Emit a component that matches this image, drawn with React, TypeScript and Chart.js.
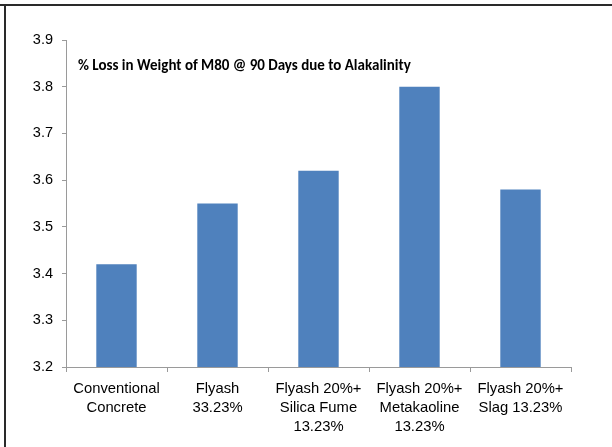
import React, { useEffect, useRef } from "react";
import { Chart, registerables } from "chart.js";

Chart.register(...registerables);

const chartTitle = "% Loss in Weight of M80 @ 90 Days due to Alakalinity";
const categories: string[][] = [
  ["Conventional", "Concrete"],
  ["Flyash", "33.23%"],
  ["Flyash 20%+", "Silica Fume", "13.23%"],
  ["Flyash 20%+", "Metakaoline", "13.23%"],
  ["Flyash 20%+", "Slag 13.23%"],
];
const lossValues = [3.42, 3.55, 3.62, 3.8, 3.58];
const yMin = 3.2;
const yMax = 3.9;
const yStep = 0.1;

export default function App() {
  const canvasRef = useRef<HTMLCanvasElement | null>(null);

  useEffect(() => {
    if (!canvasRef.current) return;
    const chart = new Chart(canvasRef.current, {
      type: "bar",
      data: {
        labels: categories,
        datasets: [
          {
            data: lossValues,
            backgroundColor: "#4F81BD",
            borderWidth: 0,
            barPercentage: 0.4,
            categoryPercentage: 1,
          },
        ],
      },
      options: {
        animation: false,
        responsive: false,
        maintainAspectRatio: false,
        layout: { padding: { left: 0, right: 41, top: 40, bottom: 0 } },
        plugins: { legend: { display: false }, tooltip: { enabled: false }, title: { display: false } },
        scales: {
          x: {
            grid: {
              display: true,
              drawOnChartArea: false,
              drawTicks: true,
              tickLength: 5,
              color: "#9a9a9a",
              offset: true,
            },
            border: { display: true, color: "#9a9a9a", width: 1 },
            ticks: {
              color: "#000",
              font: { family: "'Liberation Sans', Arial, sans-serif", size: 14.8, lineHeight: 1.3 },
              padding: 7,
              maxRotation: 0,
              autoSkip: false,
            },
            afterFit: (scale: any) => {
              scale.height = 80;
            },
          },
          y: {
            min: yMin,
            max: yMax,
            grid: {
              display: true,
              drawOnChartArea: false,
              drawTicks: true,
              tickLength: 4,
              color: "#9a9a9a",
            },
            border: { display: true, color: "#9a9a9a", width: 1 },
            ticks: {
              stepSize: yStep,
              color: "#000",
              font: { family: "'Liberation Sans', Arial, sans-serif", size: 14.5 },
              padding: 9,
              callback: (v: any) => Number(v).toFixed(1),
            },
            afterFit: (scale: any) => {
              scale.width = 66;
            },
          },
        },
      },
    });
    return () => chart.destroy();
  }, []);

  return (
    <div
      style={{
        position: "fixed",
        left: 0,
        top: 0,
        width: 612,
        height: 447,
        background: "#fff",
        overflow: "hidden",
      }}
    >
      <div
        style={{
          position: "absolute",
          left: 0,
          top: 4,
          width: 612,
          height: 0,
          borderTop: "2px solid #2a2a2a",
        }}
      />
      <div
        style={{
          position: "absolute",
          left: 4,
          top: 4,
          width: 0,
          height: 443,
          borderLeft: "2px solid #2a2a2a",
        }}
      />
      <canvas
        ref={canvasRef}
        width={612}
        height={447}
        style={{ position: "absolute", left: 0, top: 0, width: 612, height: 447 }}
      />
      <div
        style={{
          position: "absolute",
          left: 78,
          top: 56,
          fontFamily: "Carlito, Calibri, 'Liberation Sans', Arial, sans-serif",
          fontWeight: "bold",
          fontSize: 15,
          color: "#000",
          whiteSpace: "nowrap",
          lineHeight: "18px",
        }}
      >
        {chartTitle}
      </div>
    </div>
  );
}
